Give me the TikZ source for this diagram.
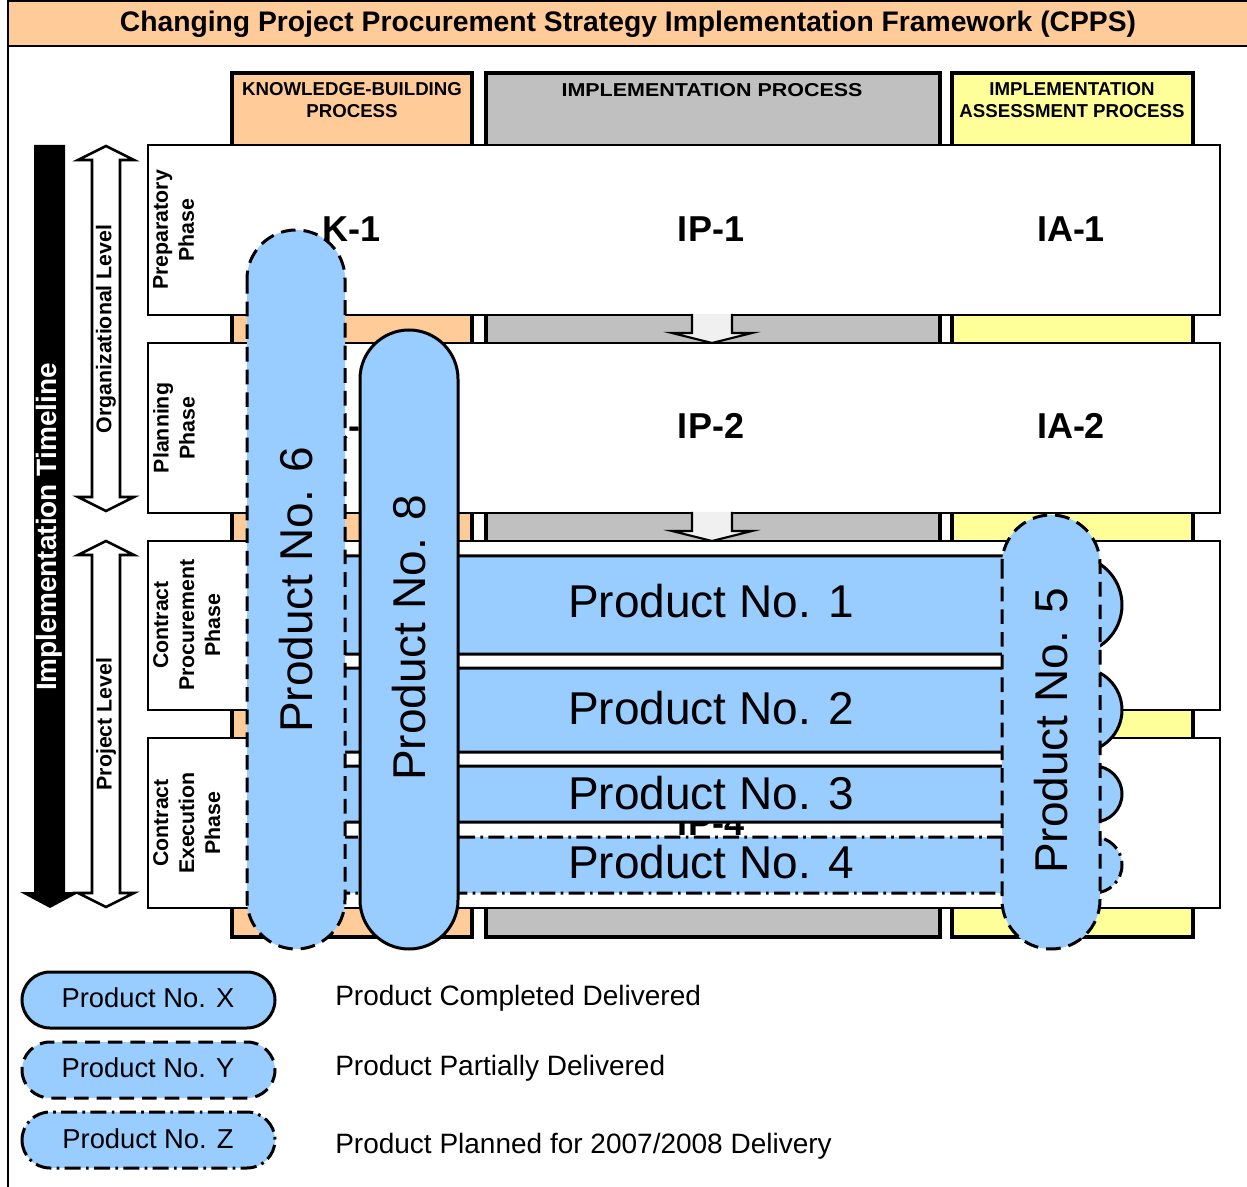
\documentclass[tikz,border=0pt]{standalone}
\usepackage{fontspec}
\setmainfont{Liberation Sans}
\definecolor{korange}{HTML}{FFCC99}
\definecolor{colgray}{HTML}{C0C0C0}
\definecolor{colyellow}{HTML}{FFFF99}
\definecolor{prodblue}{HTML}{99CCFF}
\begin{document}
\begin{tikzpicture}[x=0.75pt,y=-0.75pt]
\tikzset{
  colbox/.style={draw=black, line width=2.6pt},
  rowbox/.style={draw=black, fill=white, line width=2pt},
  rowlabel/.style={font=\bfseries\fontsize{27}{30}\selectfont, inner sep=0pt},
  phaselabel/.style={font=\bfseries\fontsize{16}{19.5}\selectfont, rotate=90, align=center, anchor=north, inner sep=0pt},
  headlabel/.style={font=\bfseries\fontsize{14}{17}\selectfont, align=center, inner sep=0pt},
  levellabel/.style={font=\bfseries\fontsize{16}{19}\selectfont, rotate=90, inner sep=0pt},
  flowarrow/.style={draw=black, fill=gray!12, line width=1.6pt, line join=miter},
  hollowarrow/.style={draw=black, fill=white, line width=2pt, line join=miter},
  prod/.style={draw=black, fill=prodblue, line width=2.25pt},
  partial/.style={dash pattern=on 11pt off 6pt},
  planned/.style={dash pattern=on 12pt off 4pt on 2pt off 4pt},
  prodtext/.style={font=\fontsize{34.5}{40}\selectfont, inner sep=0pt},
  legtext/.style={font=\fontsize{20.5}{24}\selectfont, inner sep=0pt},
  desctext/.style={font=\fontsize{21}{24}\selectfont, inner sep=0pt, anchor=west},
}
\useasboundingbox (0,0) rectangle (1247,1187);
% title and frame
\draw[fill=korange, line width=1.5pt] (8,1) rectangle (1262,46);
\node[font=\bfseries\fontsize{21.2}{24}\selectfont, inner sep=0pt] (title) at (628,24) {Changing Project Procurement Strategy Implementation Framework (CPPS)};
\draw[line width=1.5pt] (8,46) -- (8,1192);
% columns
\draw[colbox, fill=korange] (232,73) rectangle (472,937);
\draw[colbox, fill=colgray] (486,73) rectangle (940,937);
\draw[colbox, fill=colyellow] (952,73) rectangle (1193,937);
\node[headlabel] (hK) at (352,100) {KNOWLEDGE-BUILDING\\PROCESS};
\node[headlabel] (hIP) at (712,90) {\scalebox{1.15}[1]{IMPLEMENTATION PROCESS}};
\node[headlabel] (hIA) at (1072,100) {IMPLEMENTATION\\ASSESSMENT PROCESS};
% rows
\draw[rowbox] (148,145) rectangle (1220,315);
\draw[rowbox] (148,343) rectangle (1220,513);
\draw[rowbox] (148,541) rectangle (1220,710);
\draw[rowbox] (148,738) rectangle (1220,908);
% row labels
\node[rowlabel] (K1) at (352,229) {K-1};
\node[rowlabel] (IP1) at (711,229) {IP-1};
\node[rowlabel] (IA1) at (1071,229) {IA-1};
\node[rowlabel] (K2) at (352,426) {K-2};
\node[rowlabel] (IP2) at (711,426) {IP-2};
\node[rowlabel] (IA2) at (1071,426) {IA-2};
\node[rowlabel] (IP4) at (711,823) {IP-4};
% phase labels
\node[phaselabel] (ph1) at (153,230) {Preparatory\\Phase};
\node[phaselabel] (ph2) at (153,428) {Planning\\Phase};
\node[phaselabel] (ph3) at (153,625) {Contract\\Procurement\\Phase};
\node[phaselabel] (ph4) at (153,823) {Contract\\Execution\\Phase};
% flow arrows between rows
\foreach \a in {314,512,709}{
  \draw[flowarrow] (692,\a) -- (692,\a+19) -- (672,\a+19) -- (712,\a+29) -- (752,\a+19) -- (732,\a+19) -- (732,\a);
}
% timeline arrow
\fill[black] (34,145) -- (65,145) -- (65,892) -- (80,892) -- (50,908) -- (20,892) -- (34,892) -- cycle;
\node[font=\bfseries\fontsize{21}{24}\selectfont, text=white, rotate=90, inner sep=0pt] (timeline) at (49,527) {Implementation Timeline};
% level arrows
\draw[hollowarrow] (106,146) -- (134,160) -- (120,160) -- (120,497) -- (134,497) -- (106,511) -- (78,497) -- (92,497) -- (92,160) -- (78,160) -- cycle;
\node[levellabel] (org) at (106,329) {Organizational Level};
\draw[hollowarrow] (106,541) -- (134,555) -- (120,555) -- (120,893) -- (134,893) -- (106,907) -- (78,893) -- (92,893) -- (92,555) -- (78,555) -- cycle;
\node[levellabel] (proj) at (106,724) {Project Level};
% horizontal products
\draw[prod, rounded corners=36.75pt] (262,556) rectangle (1122,654);
\draw[prod, rounded corners=31.5pt] (262,668) rectangle (1122,752);
\draw[prod, rounded corners=21pt] (262,766) rectangle (1122,822);
\draw[prod, planned, rounded corners=21pt] (262,837) rectangle (1122,893);
\node[prodtext] (p1) at (711,601) {Product No. 1};
\node[prodtext] (p2) at (711,708) {Product No. 2};
\node[prodtext] (p3) at (711,793) {Product No. 3};
\node[prodtext] (p4) at (711,862) {Product No. 4};
% vertical products
\draw[prod, partial, rounded corners=36.75pt] (247,230) rectangle (345,949);
\node[prodtext, rotate=90] (p6) at (296,590) {Product No. 6};
\draw[prod, rounded corners=36.75pt] (360,330) rectangle (458,949);
\node[prodtext, rotate=90] (p8) at (409,638) {Product No. 8};
\draw[prod, partial, rounded corners=36.75pt] (1002,515) rectangle (1100,949);
\node[prodtext, rotate=90] (p5) at (1051,731) {Product No. 5};
% legend
\draw[prod, rounded corners=21pt] (22,972) rectangle (275,1028);
\node[legtext] (lx) at (148,998) {Product No. X};
\draw[prod, partial, rounded corners=21pt] (22,1042) rectangle (275,1098);
\node[legtext] (ly) at (148,1068) {Product No. Y};
\draw[prod, planned, rounded corners=21pt] (22,1112) rectangle (275,1168);
\node[legtext] (lz) at (148,1139) {Product No. Z};
\node[desctext] (dx) at (335,998) {Product Completed Delivered};
\node[desctext] (dy) at (335,1068) {Product Partially Delivered};
\node[desctext] (dz) at (335,1146) {Product Planned for 2007/2008 Delivery};
\end{tikzpicture}
\end{document}
